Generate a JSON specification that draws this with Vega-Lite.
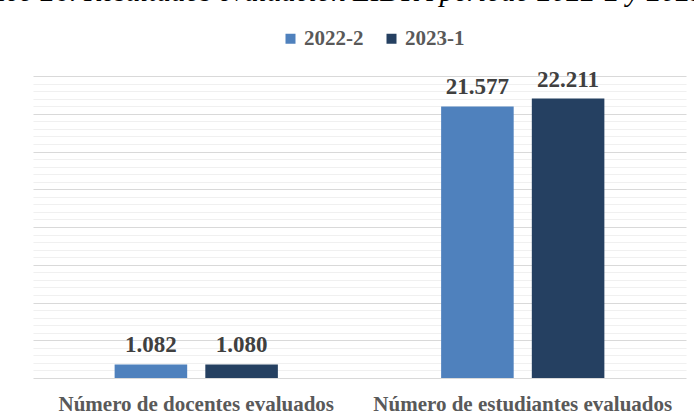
{
  "$schema": "https://vega.github.io/schema/vega-lite/v6.json",
  "autosize": {"type": "none"},
  "width": 653,
  "height": 302,
  "padding": {"left": 33, "top": 76, "right": 8, "bottom": 41},
  "background": "white",
  "title": {
    "text": "Gráfico 26. Resultados evaluación EIDPA período 2022-2 y 2023-1",
    "anchor": "start",
    "frame": "group",
    "orient": "top",
    "font": "Liberation Serif",
    "fontStyle": "italic",
    "fontWeight": "normal",
    "fontSize": 29,
    "color": "#000000",
    "baseline": "alphabetic",
    "offset": 0,
    "dy": 2,
    "dx": -90
  },
  "config": {
    "view": {"stroke": null},
    "locale": {
      "number": {"decimal": ",", "thousands": ".", "grouping": [3], "currency": ["", ""]}
    }
  },
  "data": {
    "values": [
      {"categoria": "Número de docentes evaluados", "periodo": "2022-2", "valor": 1082},
      {"categoria": "Número de docentes evaluados", "periodo": "2023-1", "valor": 1080},
      {"categoria": "Número de estudiantes evaluados", "periodo": "2022-2", "valor": 21577},
      {"categoria": "Número de estudiantes evaluados", "periodo": "2023-1", "valor": 22211}
    ]
  },
  "encoding": {
    "x": {
      "field": "categoria",
      "type": "nominal",
      "sort": null,
      "scale": {"paddingInner": 0.5, "paddingOuter": 0.25},
      "axis": {
        "title": null,
        "labelAngle": 0,
        "domain": false,
        "ticks": false,
        "tickSize": 0,
        "labelBaseline": "alphabetic",
        "labelPadding": 32,
        "labelFont": "Liberation Serif",
        "labelFontWeight": "bold",
        "labelFontSize": 21,
        "labelColor": "#595959",
        "labelLimit": 400
      }
    },
    "xOffset": {"field": "periodo", "type": "nominal", "scale": {"paddingInner": 0.2}},
    "y": {
      "field": "valor",
      "type": "quantitative",
      "scale": {"domain": [0, 24000], "nice": false}
    }
  },
  "layer": [
    {
      "mark": {"type": "bar"},
      "encoding": {
        "y": {
          "field": "valor",
          "type": "quantitative",
          "scale": {"domain": [0, 24000], "nice": false},
          "axis": {
            "title": null,
            "orient": "left",
            "values": [0, 3000, 6000, 9000, 12000, 15000, 18000, 21000, 24000],
            "labels": false,
            "ticks": false,
            "domain": false,
            "grid": true,
            "gridColor": "#D9D9D9",
            "gridWidth": 1.2
          }
        },
        "color": {
          "field": "periodo",
          "type": "nominal",
          "scale": {"domain": ["2022-2", "2023-1"], "range": ["#4F81BD", "#254061"]},
          "legend": {
            "title": null,
            "orient": "none",
            "direction": "horizontal",
            "legendX": 247,
            "legendY": -48,
            "symbolType": "square",
            "symbolSize": 100,
            "symbolStrokeWidth": 0,
            "labelFont": "Liberation Serif",
            "labelFontWeight": "bold",
            "labelFontSize": 21,
            "labelColor": "#595959",
            "labelOffset": 3,
            "columnPadding": 17
          }
        }
      }
    },
    {
      "mark": {
        "type": "text",
        "baseline": "alphabetic",
        "dy": -12,
        "font": "Liberation Serif",
        "fontWeight": "bold",
        "fontSize": 23,
        "color": "#404040"
      },
      "encoding": {
        "y": {
          "field": "valor",
          "type": "quantitative",
          "scale": {"domain": [0, 24000], "nice": false},
          "axis": {
            "title": null,
            "orient": "right",
            "values": [600, 1200, 1800, 2400, 3600, 4200, 4800, 5400, 6600, 7200, 7800, 8400, 9600, 10200, 10800, 11400, 12600, 13200, 13800, 14400, 15600, 16200, 16800, 17400, 18600, 19200, 19800, 20400, 21600, 22200, 22800, 23400],
            "labels": false,
            "ticks": false,
            "domain": false,
            "grid": true,
            "gridColor": "#F0F0F0",
            "gridWidth": 1.2
          }
        },
        "text": {"field": "valor", "type": "quantitative", "format": ",d"}
      }
    }
  ],
  "resolve": {"scale": {"y": "shared"}, "axis": {"y": "independent"}}
}
